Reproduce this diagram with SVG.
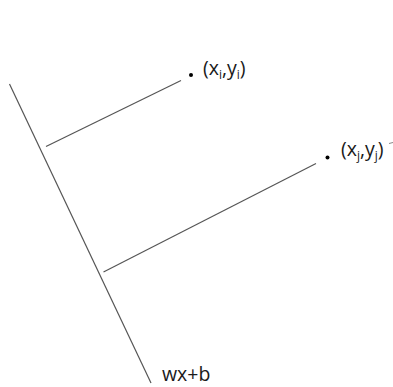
<svg xmlns="http://www.w3.org/2000/svg" width="393" height="387" viewBox="0 0 393 387">
<style>
.ln{stroke:#555;stroke-width:1.2;fill:none}
.lbl{font-family:"Open Sans","Liberation Sans",sans-serif;font-size:19.5px;fill:#1a1a1a}
.sub{font-size:12px}
.dot{fill:#000}
</style>
<rect width="393" height="387" fill="#fff"/>
<g id="connectors">
<line class="ln" x1="9.5" y1="84" x2="151" y2="383"/>
<line class="ln" x1="46" y1="146.5" x2="181" y2="80.5"/>
<line class="ln" x1="103.5" y1="272" x2="316" y2="163.5"/>
</g>
<g id="point-i">
<circle class="dot" cx="191" cy="75" r="2"/>
<text class="lbl" x="203" y="75">(x<tspan class="sub" dy="4">i</tspan><tspan dy="-4">,y</tspan><tspan class="sub" dy="4">i</tspan><tspan dy="-4">)</tspan></text>
</g>
<g id="point-j">
<circle class="dot" cx="327.5" cy="157.5" r="2"/>
<text class="lbl" x="341" y="156">(x<tspan class="sub" dy="4">j</tspan><tspan dy="-4">,y</tspan><tspan class="sub" dy="4">j</tspan><tspan dy="-4">)</tspan></text>
<line x1="389" y1="143.5" x2="393" y2="142.5" stroke="#888" stroke-width="1"/>
</g>
<g id="hyperplane-label">
<text class="lbl" x="162" y="381">wx+b</text>
</g>
</svg>
